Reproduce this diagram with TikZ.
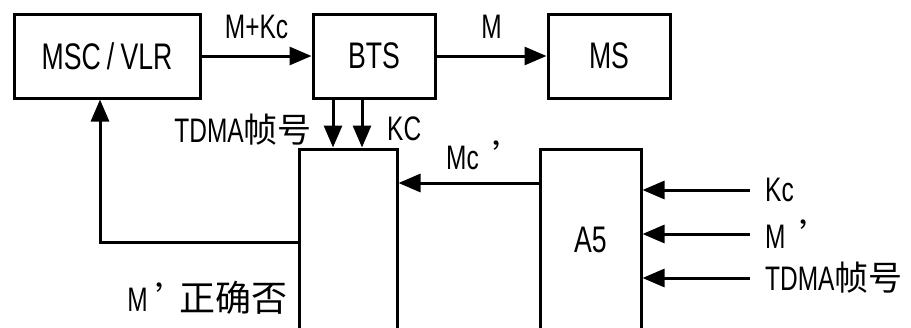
\documentclass[tikz,border=0pt]{standalone}
\usepackage{fontspec}
\setmainfont{Liberation Sans}[FakeStretch=0.72]
\newfontfamily\cjk{Noto Sans CJK SC}
\usepackage{tikz}
\usetikzlibrary{positioning, arrows.meta, calc}

\begin{document}
\begin{tikzpicture}[x=1pt, y=-1pt,
    blk/.style={draw, line width=3pt, inner sep=0pt, font=\fontsize{37}{40}\selectfont},
    lbl/.style={inner sep=0pt, font=\fontsize{34}{38}\selectfont},
    flow/.style={line width=3pt, -{Triangle[length=22pt, width=18pt]}}]
    \clip (0,0) rectangle (911,327);
    % boxes
    \node[blk, minimum width=186pt, minimum height=84pt] (msc) at (107,56) {MSC\,/\,VLR};
    \node[blk, minimum width=122pt, minimum height=84pt] (bts) at (374,56) {BTS};
    \node[blk, minimum width=122pt, minimum height=84pt] (ms) at (609,56) {MS};
    \node[blk, minimum width=98pt, minimum height=182pt] (chk) at (348,240) {};
    \node[blk, minimum width=101pt, minimum height=182pt] (a5) at (590.5,240) {A5};
    % top row
    \draw[flow] (msc.east) -- node[lbl, above=16pt] {M+Kc} (bts.west);
    \draw[flow] (bts.east) -- node[lbl, above=16pt] {M} (ms.west);
    % BTS down to check box
    \coordinate (t1) at ([xshift=-15pt]chk.north);
    \coordinate (t2) at ([xshift=14pt]chk.north);
    \draw[flow] (bts.south -| t1) -- (t1);
    \draw[flow] (bts.south -| t2) -- (t2);
    \node[lbl, anchor=east] (tdma) at (312,130) {TDMA{\cjk 帧号}};
    \node[lbl, anchor=west] (kc) at (387,129) {KC};
    % A5 output
    \draw[flow] ([yshift=57pt]a5.west) -- node[lbl, above=12pt, xshift=18pt] {Mc\hspace{14pt}{\cjk ’}} ([yshift=57pt]a5.west -| chk.east);
    % A5 inputs
    \foreach \y/\name/\txt in {190/kin/Kc, 234/min/{M\hspace{14pt}{\cjk ’}}, 278/tin/{TDMA{\cjk 帧号}}} {
      \coordinate (\name) at (750,\y);
      \draw[flow] (\name) -- (\name -| a5.east);
      \node[lbl, anchor=west] at ([xshift=15pt]\name) {\txt};
    }
    % feedback to MSC
    \coordinate (fb) at ([xshift=-7pt]msc.south);
    \draw[flow] ([yshift=-2pt]chk.west) -| (fb);
    \node[lbl, anchor=east] (ok) at (288,298) {M\hspace{8pt}{\cjk ’\hspace{-10pt}\fontsize{36}{40}\selectfont 正确否}};
\end{tikzpicture}
\end{document}
